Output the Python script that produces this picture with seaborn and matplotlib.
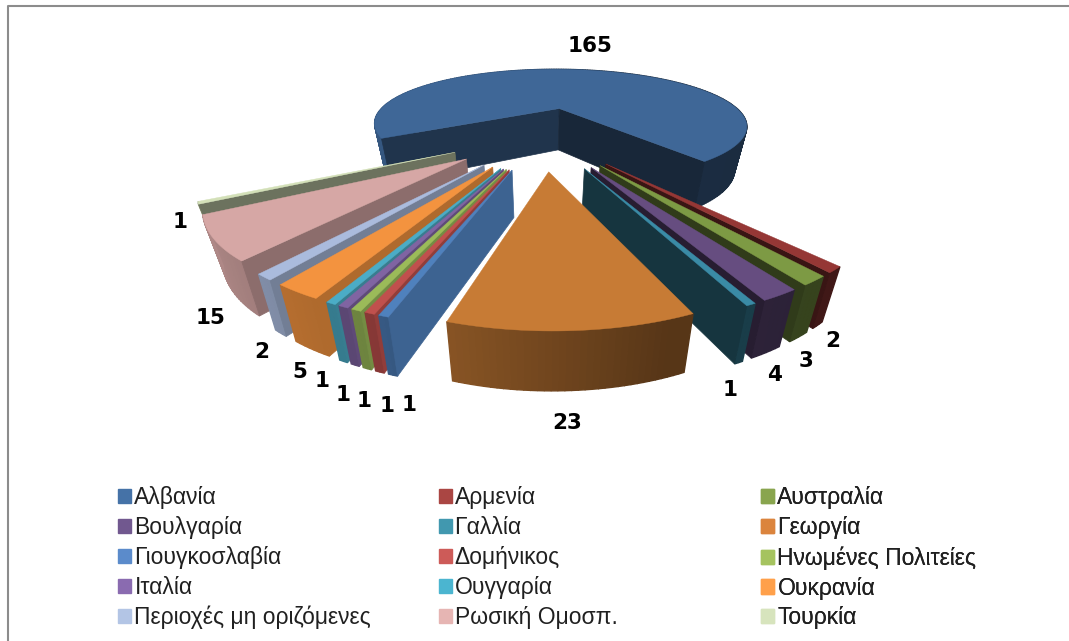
import numpy as np
import matplotlib
matplotlib.use("Agg")
import matplotlib.pyplot as plt
from matplotlib.colors import to_rgb
from matplotlib.patches import Patch
import seaborn as sns

sns.set_theme(style="white")
plt.rcParams["font.family"] = ["Liberation Sans", "DejaVu Sans"]

# data
countries = ["Αλβανία", "Αρμενία", "Αυστραλία", "Βουλγαρία", "Γαλλία",
             "Γεωργία", "Γιουγκοσλαβία", "Δομήνικος", "Ηνωμένες Πολιτείες",
             "Ιταλία", "Ουγγαρία", "Ουκρανία", "Περιοχές μη οριζόμενες",
             "Ρωσική Ομοσπ.", "Τουρκία"]
counts = [165, 2, 3, 4, 1, 23, 1, 1, 1, 1, 1, 5, 2, 15, 1]

# colours
top_colors = ["#3f6797", "#953735", "#7d9a44", "#664d80", "#3a8ba6",
              "#c77b35", "#4f81bd", "#c0504d", "#9bbb59", "#8064a2",
              "#4bacc6", "#f3933f", "#aabbdd", "#d6a7a5", "#d3e0b8"]
legend_colors = ["#4572a7", "#aa4643", "#89a54e", "#71588f", "#4198af",
                 "#db843d", "#5b8bcb", "#cd5b58", "#a5c35f", "#8a6bb0",
                 "#4bb5d0", "#ffa04a", "#b3c5e5", "#e6b5b3", "#d7e4bd"]

# fake 3d pie settings, all in image pixels
CX, CY = 543, 135
R = 205
TILT = 0.33
PERSP = 0.34
EXPLODE = 0.46
FIRST_ANGLE = 240
HEIGHT = 44
LEAN = 0.06  # walls narrow towards the bottom


def project(x, y, lift=0.0):
    s = 1 / (1 - PERSP * y)
    return (CX + R * x * s * (1 - LEAN * lift),
            CY + R * TILT * y * s + lift * HEIGHT * s ** 0.45)


def shade(color, f):
    return tuple(min(1, c * f) for c in to_rgb(color))


def radial_factor(deg):
    return np.interp(deg % 360, [140, 175, 190, 240], [0.38, 0.38, 0.8, 0.5])


def arc_factor(deg):
    return np.interp(np.sin(np.radians(deg)), [-1, -0.3, 0.3, 1], [0.85, 0.7, 0.44, 0.42])


def draw_slice(ax, a0, a1, color):
    mid = np.radians((a0 + a1) / 2)
    ox, oy = EXPLODE * np.sin(mid), -EXPLODE * np.cos(mid)
    deg = np.linspace(a0, a1, max(int(abs(a1 - a0)), 2) + 1)
    xs = ox + np.sin(np.radians(deg))
    ys = oy - np.cos(np.radians(deg))

    # outer wall, small steps so the shade can change along it
    for i in range(len(deg) - 1):
        xa, ya = project(xs[i:i + 2], ys[i:i + 2])
        xb, yb = project(xs[i:i + 2], ys[i:i + 2], 1)
        ax.fill([xa[0], xa[1], xb[1], xb[0]], [ya[0], ya[1], yb[1], yb[0]],
                color=shade(color, arc_factor(deg[i])), lw=1)

    # cut walls: Albania shows both, the front slice none, the rest the viewer side one
    edges = [(0, a0), (-1, a1)]
    if abs(a1 - a0) < 90:
        if abs(np.sin(mid)) < 0.2:
            edges = []
        else:
            edges = [edges[0]] if np.sin(mid) < 0 else [edges[1]]
    for edge, d in edges:
        xa, ya = project(np.array([ox, xs[edge]]), np.array([oy, ys[edge]]))
        xb, yb = project(np.array([ox, xs[edge]]), np.array([oy, ys[edge]]), 1)
        ax.fill([xa[0], xa[1], xb[1], xb[0]], [ya[0], ya[1], yb[1], yb[0]],
                color=shade(color, radial_factor(d)), lw=0.5)

    px, py = project(np.r_[ox, xs], np.r_[oy, ys])
    ax.fill(px, py, color=color, lw=0.3)


fig = plt.figure(figsize=(10.69, 6.41), dpi=100)
ax = fig.add_axes([0, 0, 1, 1])
ax.set_xlim(0, 1069)
ax.set_ylim(641, 0)
ax.axis("off")
ax.plot([8, 8, 1069], [641, 6, 6], color="#8c8c8c", lw=1.5)

# slices, back ones first
sweep = np.array(counts) / sum(counts) * 360
starts = FIRST_ANGLE + np.r_[0, np.cumsum(sweep)[:-1]]
order = np.argsort([-np.cos(np.radians(s + w / 2)) for s, w in zip(starts, sweep)])
for i in order:
    draw_slice(ax, starts[i], starts[i] + sweep[i], top_colors[i])

# value labels
label_xy = [(590, 46), (833, 341), (806, 361), (774, 375), (730, 390),
            (567, 423), (409, 405), (387, 406), (364, 401), (343, 395),
            (322, 381), (300, 372), (262, 352), (211, 318), (180, 222)]
for n, (lx, ly) in zip(counts, label_xy):
    ax.text(lx, ly, str(n), ha="center", va="center", fontsize=15.5,
            fontweight="bold", family="DejaVu Sans", color="black")

# legend is filled row by row, so one legend per column
for col, left in enumerate([0.1, 0.3995, 0.7015]):
    idx = range(col, len(countries), 3)
    handles = [Patch(color=legend_colors[i], label=countries[i]) for i in idx]
    leg = ax.legend(handles=handles, loc="upper left", bbox_to_anchor=(left, 0.259),
                    frameon=False, fontsize=16.5, handlelength=0.57, handleheight=0.57,
                    handletextpad=0.13, labelspacing=0.3, borderpad=0, labelcolor="#202020")
    ax.add_artist(leg)

fig.savefig("out.png", dpi=100)
